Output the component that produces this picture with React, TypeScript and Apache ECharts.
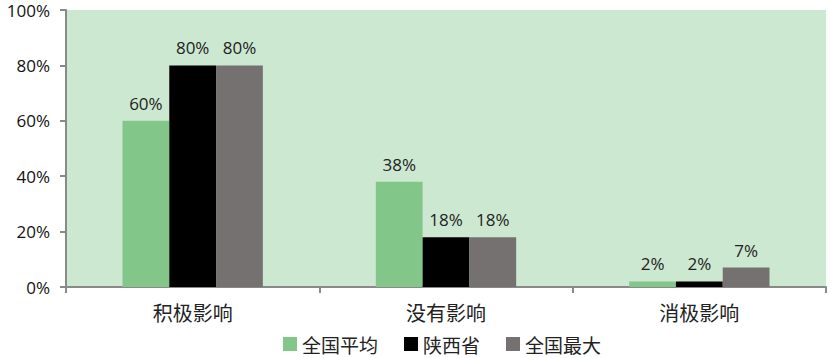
import React, { useEffect, useRef } from "react";
import * as echarts from "echarts";

const categories = ["积极影响", "没有影响", "消极影响"];
const seriesNames = ["全国平均", "陕西省", "全国最大"];
const nationalAvg = [60, 38, 2];
const shaanxi = [80, 18, 2];
const nationalMax = [80, 18, 7];
const colors = ["#82C68A", "#000000", "#767171"];

export default function App() {
  const ref = useRef<HTMLDivElement>(null);
  useEffect(() => {
    document.body.style.margin = "0";
    if (!ref.current) return;
    const chart = echarts.init(ref.current, undefined, { renderer: "svg" });
    const values = [nationalAvg, shaanxi, nationalMax];
    chart.setOption({
      animation: false,
      grid: {
        left: 66,
        right: 5,
        top: 10,
        bottom: 71,
        show: true,
        backgroundColor: "#CDE8D1",
        borderWidth: 0,
      },
      legend: {
        top: 334,
        left: 283,
        padding: 0,
        itemWidth: 14,
        itemHeight: 14,
        itemGap: 26,
        icon: "rect",
        textStyle: {
          fontSize: 19,
          lineHeight: 20,
          color: "#222",
          fontFamily: "Noto Sans CJK SC",
        },
        data: seriesNames,
      },
      xAxis: {
        type: "category",
        data: categories,
        axisLine: { lineStyle: { color: "#898989", width: 2 } },
        axisTick: { show: true, length: 6, lineStyle: { color: "#898989", width: 2 } },
        axisLabel: { fontSize: 20, color: "#222", margin: 15, fontFamily: "Noto Sans CJK SC" },
      },
      yAxis: {
        type: "value",
        min: 0,
        max: 100,
        interval: 20,
        axisLine: { show: true, lineStyle: { color: "#898989", width: 2 } },
        axisTick: { show: true, length: 6, lineStyle: { color: "#898989", width: 2 } },
        splitLine: { show: false },
        axisLabel: {
          formatter: "{value}%",
          fontSize: 17,
          color: "#111",
          margin: 16,
          fontFamily: "Open Sans",
        },
      },
      series: values.map((v, i) => ({
        name: seriesNames[i],
        type: "bar",
        data: v,
        barGap: "0%",
        barCategoryGap: "44.6%",
        itemStyle: { color: colors[i] },
        label: {
          show: true,
          position: "top",
          formatter: "{c}%",
          fontSize: 17,
          color: "#222",
          distance: 9,
          fontFamily: "Open Sans",
        },
      })),
    });
    return () => chart.dispose();
  }, []);
  return <div ref={ref} style={{ width: 831, height: 358 }} />;
}
